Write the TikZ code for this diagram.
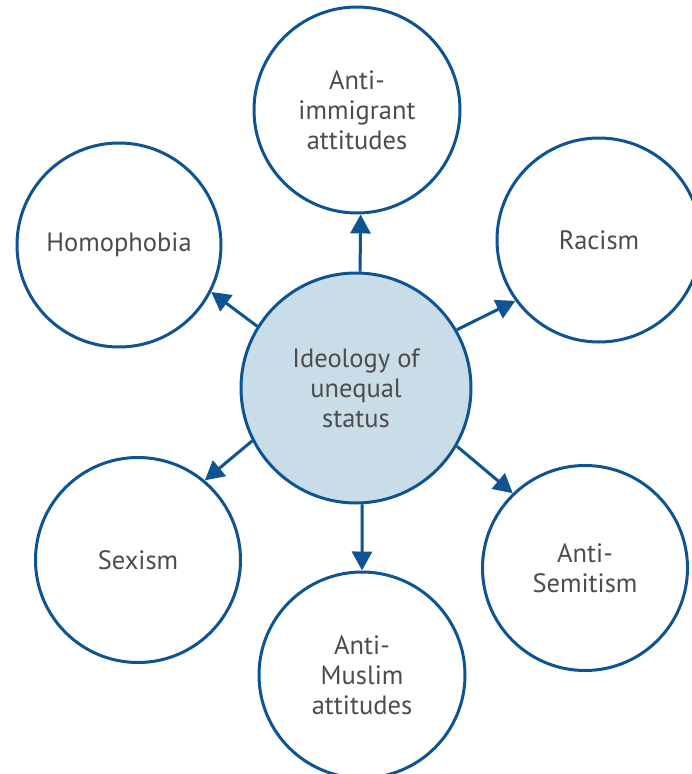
\documentclass[tikz,border=0pt]{standalone}
\usepackage{fontspec}
\setmainfont{PT Sans}
\usetikzlibrary{arrows.meta}
\definecolor{ringblue}{RGB}{14,84,146}
\definecolor{hubfill}{RGB}{201,221,232}
\definecolor{labgray}{RGB}{78,76,74}
\tikzset{
  ring/.style={circle,draw=ringblue,line width=3pt,inner sep=0pt,
    minimum size=#1,align=center,text=labgray,
    font=\fontsize{26.5}{30}\selectfont},
  spoke/.style={ringblue,line width=3pt,-{Triangle[length=19pt,width=20pt]}}
}
\begin{document}
\begin{tikzpicture}[x=1pt,y=-1pt]
  \useasboundingbox (0,0) rectangle (692,774);
  \begin{scope}
  %hub
  \node[ring=230pt,fill=hubfill] (ideo) at (356,388) {Ideology of\\unequal\\status};
  %outer ring
  \node[ring=206pt] (immig) at (357,110) {Anti-\\immigrant\\attitudes};
  \node[ring=204pt] (racism) at (599,240) {Racism};
  \node[ring=205pt] (semit) at (585,568) {Anti-\\Semitism};
  \node[ring=206pt] (muslim) at (362,675) {Anti-\\Muslim\\attitudes};
  \node[ring=205pt] (sexism) at (138,560) {Sexism};
  \node[ring=204pt] (homo) at (119,245) {Homophobia};
  %spokes
  \draw[spoke] (ideo.88) -- (immig.-88);
  \draw[spoke] (ideo.30) -- (racism.-144);
  \draw[spoke] (ideo.-30) -- (semit.134);
  \draw[spoke] (ideo.-87) -- (muslim.90);
  \draw[spoke] (ideo.-153) -- (sexism.50);
  \draw[spoke] (ideo.148) -- (homo.-27);
  \end{scope}
\end{tikzpicture}
\end{document}
